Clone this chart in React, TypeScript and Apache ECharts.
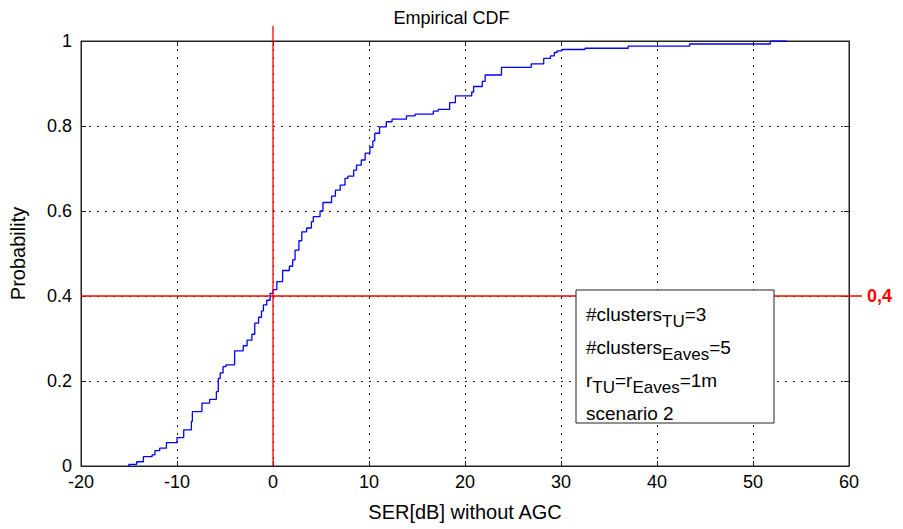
import React, { useEffect, useRef } from "react";
import * as echarts from "echarts";

const TITLE = "Empirical CDF";
const X_LABEL = "SER[dB] without AGC";
const Y_LABEL = "Probability";
const X_MIN = -20;
const X_MAX = 60;
const X_STEP = 10;
const Y_MIN = 0;
const Y_MAX = 1;
const Y_STEP = 0.2;
const REF_X = 0;
const REF_Y = 0.4;
const REF_Y_LABEL = "0,4";

// empirical CDF step points: x where jump occurs, value after jump
const cdfX = [
  -15.1, -15.0, -14.2, -13.5, -12.6, -12.3, -11.8, -11.1, -10.0, -9.3,
  -8.5, -8.4, -7.4, -6.6, -5.9, -5.7, -5.5, -5.2, -4.9, -4.0,
  -3.1, -2.7, -2.2, -1.9, -1.5, -1.2, -1.0, -0.65, -0.3, 0.0,
  0.4, 1.0, 1.7, 2.05, 2.3, 2.7, 3.0, 3.5, 4.0, 4.2,
  4.9, 5.2, 6.1, 6.5, 7.0, 7.5, 7.8, 8.4, 8.7, 9.2,
  9.6, 10.1, 10.4, 10.6, 11.1, 11.8, 12.4, 13.9, 14.8, 16.7,
  17.2, 18.4, 19.0, 20.7, 20.9, 21.8, 22.1, 23.8, 26.9, 28.2,
  28.9, 29.3, 29.6, 30.1, 32.5, 37.0, 43.4, 51.8, 53.5,
];
const cdfY = [
  0.0, 0.004, 0.01, 0.022, 0.026, 0.036, 0.042, 0.055, 0.067, 0.085,
  0.105, 0.128, 0.148, 0.157, 0.175, 0.206, 0.219, 0.234, 0.238, 0.271,
  0.283, 0.296, 0.31, 0.336, 0.35, 0.365, 0.379, 0.39, 0.406, 0.415,
  0.434, 0.46, 0.47, 0.485, 0.508, 0.53, 0.551, 0.56, 0.575, 0.587,
  0.6, 0.62, 0.635, 0.649, 0.661, 0.677, 0.682, 0.696, 0.708, 0.72,
  0.736, 0.75, 0.765, 0.783, 0.798, 0.81, 0.816, 0.824, 0.828, 0.835,
  0.839, 0.855, 0.871, 0.88, 0.893, 0.905, 0.92, 0.938, 0.946, 0.959,
  0.965, 0.973, 0.977, 0.98, 0.983, 0.988, 0.993, 1.0, 1.0,
];

// annotation box lines: [text, isSubscript] pieces
const boxLines: Array<Array<[string, boolean]>> = [
  [["#clusters", false], ["TU", true], ["=3", false]],
  [["#clusters", false], ["Eaves", true], ["=5", false]],
  [["r", false], ["TU", true], ["=r", false], ["Eaves", true], ["=1m", false]],
  [["scenario 2", false]],
];

const FONT = "'Liberation Sans', Arial, sans-serif";

export default function App() {
  const ref = useRef<HTMLDivElement>(null);
  useEffect(() => {
    document.body.style.margin = "0";
    const chart = echarts.init(ref.current!, undefined, { renderer: "svg" });
    const axisLine = { show: true, onZero: false, lineStyle: { color: "#222", width: 1 } };
    const tick = { show: true, inside: true, length: 5, lineStyle: { color: "#222" } };
    const grid = {
      left: 81, right: 54, top: 41, bottom: 63, containLabel: false,
      show: true, borderColor: "#222", borderWidth: 1, backgroundColor: "transparent",
    };
    const fmtY = (v: number) => String(+v.toFixed(1));
    const split = { show: true, lineStyle: { type: [2, 6], color: "#222", width: 1 } };
    chart.setOption({
      animation: false,
      backgroundColor: "#fff",
      title: {
        text: TITLE,
        left: "center",
        top: 4,
        textStyle: { fontFamily: FONT, fontSize: 18, fontWeight: "normal", color: "#000" },
      },
      grid,
      xAxis: [
        {
          type: "value", min: X_MIN, max: X_MAX, interval: X_STEP, position: "bottom",
          name: X_LABEL, nameLocation: "middle", nameGap: 36,
          nameTextStyle: { fontFamily: FONT, fontSize: 20, color: "#000" },
          axisLine, axisTick: tick,
          axisLabel: { fontFamily: FONT, fontSize: 18, color: "#000", margin: 7 },
          splitLine: split,
        },
        {
          type: "value", min: X_MIN, max: X_MAX, interval: X_STEP, position: "top",
          axisLine, axisTick: tick, axisLabel: { show: false }, splitLine: { show: false },
        },
      ],
      yAxis: [
        {
          type: "value", min: Y_MIN, max: Y_MAX, interval: Y_STEP, position: "left",
          name: Y_LABEL, nameLocation: "middle", nameGap: 53, nameRotate: 90,
          nameTextStyle: { fontFamily: FONT, fontSize: 20, color: "#000" },
          axisLine, axisTick: tick,
          axisLabel: { fontFamily: FONT, fontSize: 18, color: "#000", margin: 9, formatter: fmtY },
          splitLine: split,
        },
        {
          type: "value", min: Y_MIN, max: Y_MAX, interval: Y_STEP, position: "right",
          axisLine, axisTick: tick, axisLabel: { show: false }, splitLine: { show: false },
        },
      ],
      series: [
        {
          type: "line",
          step: "end",
          showSymbol: false,
          data: cdfX.map((x, i) => [x, cdfY[i]]),
          lineStyle: { color: "#0000ff", width: 1.3 },
          z: 3,
        },
        {
          type: "line",
          xAxisIndex: 1,
          yAxisIndex: 1,
          data: [],
          silent: true,
          showSymbol: false,
        },
      ],
    });

    const px = (x: number) => chart.convertToPixel({ xAxisIndex: 0 }, x) as number;
    const py = (y: number) => chart.convertToPixel({ yAxisIndex: 0 }, y) as number;
    const left = px(X_MIN), right = px(X_MAX), top = py(Y_MAX), bottom = py(Y_MIN);
    const rx = px(REF_X), ry = py(REF_Y);

    const boxLeft = 576, boxTop = 290, boxW = 198, boxH = 133;
    const rich = {
      m: { fontFamily: FONT, fontSize: 19, color: "#000", lineHeight: 20, verticalAlign: "top" },
      s: { fontFamily: FONT, fontSize: 17, color: "#000", lineHeight: 20, padding: [8, 0, 0, 0], verticalAlign: "top" },
    };
    const lineEls = boxLines.map((parts, i) => ({
      type: "text",
      x: boxLeft + 10,
      y: boxTop + 15 + i * 33,
      style: {
        text: parts.map(([t, sub]) => `{${sub ? "s" : "m"}|${t}}`).join(""),
        rich,
      },
      z: 20,
    }));

    chart.setOption({
      graphic: [
        {
          type: "line",
          shape: { x1: rx, y1: top - 15, x2: rx, y2: bottom },
          style: { stroke: "#ff0000", lineWidth: 1.3 },
          z: 10,
        },
        {
          type: "line",
          shape: { x1: left, y1: ry, x2: right + 13, y2: ry },
          style: { stroke: "#ff0000", lineWidth: 1.3 },
          z: 10,
        },
        {
          type: "text",
          x: right + 18,
          y: ry,
          style: {
            text: REF_Y_LABEL,
            fill: "#ff0000",
            fontFamily: FONT,
            fontSize: 18,
            fontWeight: "bold",
            verticalAlign: "middle",
          },
          z: 10,
        },
        {
          type: "rect",
          shape: { x: boxLeft, y: boxTop, width: boxW, height: boxH },
          style: { fill: "#fff", stroke: "#222", lineWidth: 1 },
          z: 15,
        },
        ...lineEls,
      ],
    });
    return () => chart.dispose();
  }, []);
  return <div ref={ref} style={{ width: 903, height: 529 }} />;
}
